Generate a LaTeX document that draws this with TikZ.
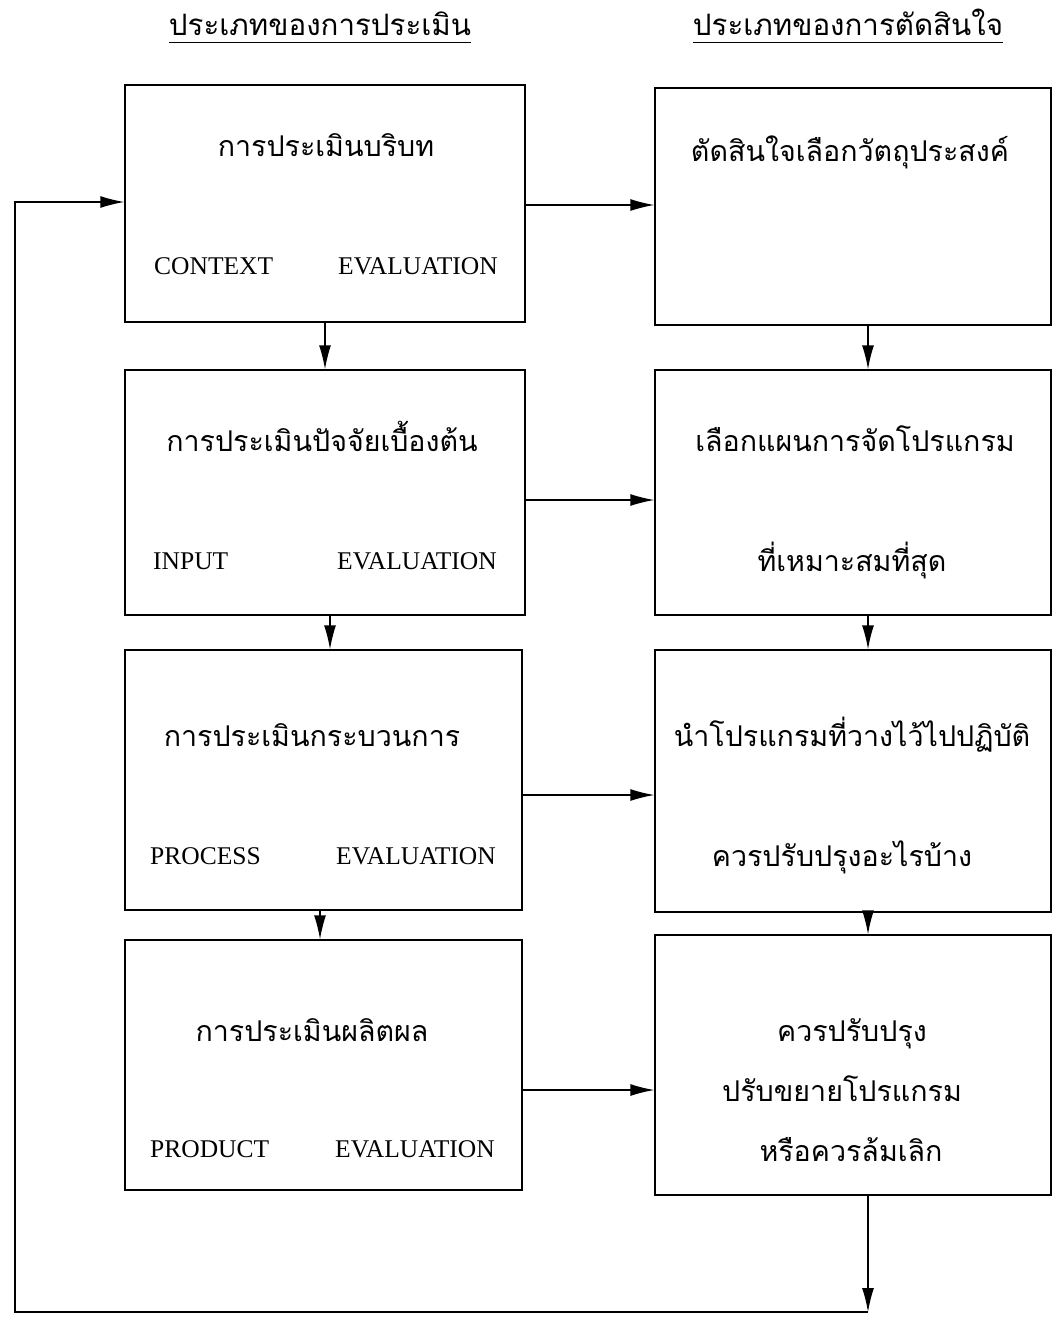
\documentclass[tikz,border=0pt]{standalone}
\usepackage{fontspec}
\setmainfont{Liberation Serif}
\newfontfamily\thaifont[Script=Thai]{Loma}
\usetikzlibrary{arrows.meta}
\tikzset{
  box/.style={draw, line width=1.3pt, inner sep=0pt},
  th/.style={font=\thaifont\fontsize{28.6}{32}\selectfont, inner sep=0pt, anchor=base},
  hd/.style={font=\thaifont\fontsize{29.5}{33}\selectfont, inner sep=0pt, anchor=base},
  en/.style={font=\fontsize{25.5}{29}\selectfont, inner sep=0pt},
  arr/.style={line width=1.3pt, -{Latex[length=24pt,width=12pt]}},
}
\begin{document}
\begin{tikzpicture}[x=1pt,y=-1pt]
\useasboundingbox (0,0) rectangle (1054,1322);
% headers
\node[hd] (h1) at (320,36) {ประเภทของการประเมิน};
\node[hd] (h2) at (848,36) {ประเภทของการตัดสินใจ};
\draw[line width=1pt] ([yshift=-7pt]h1.base west) -- ([yshift=-7pt]h1.base east);
\draw[line width=1pt] ([yshift=-7pt]h2.base west) -- ([yshift=-7pt]h2.base east);
% left boxes
\node[box, minimum width=400pt, minimum height=237pt] (L1) at (325,203.5) {};
\node[box, minimum width=400pt, minimum height=245pt] (L2) at (325,492.5) {};
\node[box, minimum width=397pt, minimum height=260pt] (L3) at (323.5,780) {};
\node[box, minimum width=397pt, minimum height=250pt] (L4) at (323.5,1065) {};
% right boxes
\node[box, minimum width=396pt, minimum height=237pt] (R1) at (853,206.5) {};
\node[box, minimum width=396pt, minimum height=245pt] (R2) at (853,492.5) {};
\node[box, minimum width=396pt, minimum height=262pt] (R3) at (853,781) {};
\node[box, minimum width=396pt, minimum height=260pt] (R4) at (853,1065) {};
% left texts
\node[th] (t1) at (326,156) {การประเมินบริบท};
\node[en, anchor=base west] (c1) at (154,274) {CONTEXT};
\node[en, anchor=base east] (e1) at (498,274) {EVALUATION};
\node[th] (t2) at (322,451) {การประเมินปัจจัยเบื้องต้น};
\node[en, anchor=base west] (c2) at (153,569) {INPUT};
\node[en, anchor=base east] (e2) at (497,569) {EVALUATION};
\node[th] (t3) at (312,746) {การประเมินกระบวนการ};
\node[en, anchor=base west] (c3) at (150,864) {PROCESS};
\node[en, anchor=base east] (e3) at (496,864) {EVALUATION};
\node[th] (t4) at (312,1041) {การประเมินผลิตผล};
\node[en, anchor=base west] (c4) at (150,1157) {PRODUCT};
\node[en, anchor=base east] (e4) at (495,1157) {EVALUATION};
% right texts
\node[th] (r1) at (850,161) {ตัดสินใจเลือกวัตถุประสงค์};
\node[th] (r2a) at (855,451) {เลือกแผนการจัดโปรแกรม};
\node[th] (r2b) at (852,571) {ที่เหมาะสมที่สุด};
\node[th] (r3a) at (852,746) {นำโปรแกรมที่วางไว้ไปปฏิบัติ};
\node[th] (r3b) at (842,866) {ควรปรับปรุงอะไรบ้าง};
\node[th] (r4a) at (852,1041) {ควรปรับปรุง};
\node[th] (r4b) at (842,1101) {ปรับขยายโปรแกรม};
\node[th] (r4c) at (851,1161) {หรือควรล้มเลิก};
% helper coordinates
\coordinate (rx) at (868,0);
\coordinate (fb1) at (868,1312);
\coordinate (fb2) at (15,1312);
% horizontal arrows
\draw[arr] (L1.east |- 0,205) -- (R1.west |- 0,205);
\draw[arr] (L2.east |- 0,500) -- (R2.west |- 0,500);
\draw[arr] (L3.east |- 0,795) -- (R3.west |- 0,795);
\draw[arr] (L4.east |- 0,1090) -- (R4.west |- 0,1090);
% left vertical arrows
\draw[arr] (L1.south) -- (L2.north);
\draw[arr] (L2.south -| 330,0) -- (L3.north -| 330,0);
\draw[arr] (L3.south -| 320,0) -- (L4.north -| 320,0);
% right vertical arrows
\draw[arr] (R1.south -| rx) -- (R2.north -| rx);
\draw[arr] (R2.south -| rx) -- (R3.north -| rx);
\draw[arr] (R3.south -| rx) -- (R4.north -| rx);
\draw[arr] (R4.south -| rx) -- (fb1);
% feedback loop
\draw[arr] (fb1) -- (fb2) |- (L1.west |- 0,202);
\end{tikzpicture}
\end{document}
